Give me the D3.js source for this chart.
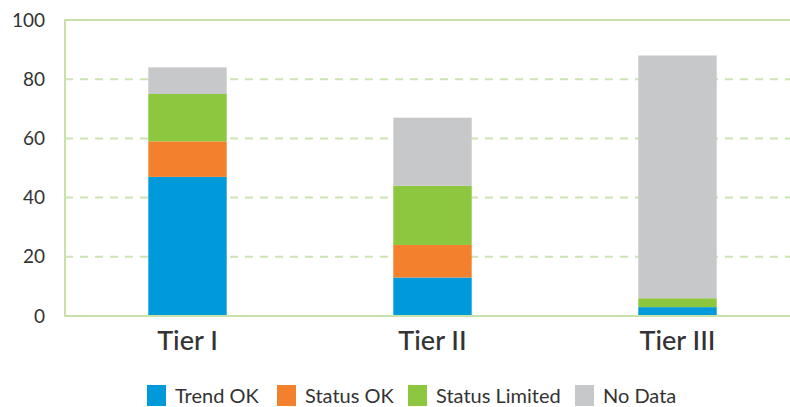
<!DOCTYPE html>
<html lang="en">
<head>
    <meta charset="UTF-8">
    <title>Tier status</title>
    <script src="https://cdnjs.cloudflare.com/ajax/libs/d3/7.8.5/d3.min.js"></script>
    <style>
        body { margin: 0; background: #fff; }
        text { font-family: Lato, "Open Sans", sans-serif; fill: #333; }
        .grid line { stroke: #cde3b3; stroke-width: 2px; stroke-dasharray: 8 7; }
        .frame { stroke: #c9e2ab; stroke-width: 2px; fill: none; }
    </style>
</head>
<body>
<svg width="790" height="407"></svg>
<script>
    var tiers = ["Tier I", "Tier II", "Tier III"];
    var seriesNames = ["Trend OK", "Status OK", "Status Limited", "No Data"];
    var seriesColors = ["#0099d9", "#f2802c", "#8dc63f", "#c7c8ca"];
    var trendOK = [47, 13, 3];
    var statusOK = [12, 11, 0];
    var statusLimited = [16, 20, 3];
    var noData = [9, 23, 82];
    var yTicks = [0, 20, 40, 60, 80, 100];

    var svg = d3.select("svg");
    var plotLeft = 65, plotTop = 20, plotBottom = 316, plotRight = 800;

    // rows for the stack
    var rows = tiers.map(function (t, i) {
        return {
            tier: t,
            "Trend OK": trendOK[i],
            "Status OK": statusOK[i],
            "Status Limited": statusLimited[i],
            "No Data": noData[i]
        };
    });
    var stacked = d3.stack().keys(seriesNames)(rows);

    var x = d3.scaleBand().domain(tiers).range([plotLeft, plotRight]).paddingInner(0.68).paddingOuter(0.34);
    var y = d3.scaleLinear().domain([0, 100]).range([plotBottom, plotTop]);
    var color = d3.scaleOrdinal().domain(seriesNames).range(seriesColors);

    // dashed gridlines
    svg.append("g").attr("class", "grid")
        .selectAll("line")
        .data(yTicks.filter(function (d) { return d > 0 && d < 100; }))
        .enter().append("line")
        .attr("x1", plotLeft).attr("x2", plotRight)
        .attr("y1", function (d) { return y(d); })
        .attr("y2", function (d) { return y(d); });

    // bars
    svg.append("g").selectAll("g")
        .data(stacked)
        .enter().append("g")
        .attr("fill", function (d) { return color(d.key); })
        .selectAll("rect")
        .data(function (d) { return d; })
        .enter().append("rect")
        .attr("x", function (d) { return x(d.data.tier); })
        .attr("width", x.bandwidth())
        .attr("y", function (d) { return y(d[1]); })
        .attr("height", function (d) { return y(d[0]) - y(d[1]); });

    // frame: top, left, bottom
    svg.append("path").attr("class", "frame")
        .attr("d", "M" + plotRight + "," + y(100) + "H" + plotLeft + "V" + y(0) + "H" + plotRight);

    // y axis labels
    var yAxis = d3.axisLeft(y).tickValues(yTicks).tickSize(0).tickPadding(20);
    var gy = svg.append("g").attr("transform", "translate(" + plotLeft + ",0)").call(yAxis);
    gy.select(".domain").remove();
    gy.selectAll("text").style("font-size", "19px").style("font-family", "Lato, sans-serif").attr("fill", "#2b2b2b");

    // x axis labels
    var xAxis = d3.axisBottom(x).tickSize(0).tickPadding(15);
    var gx = svg.append("g").attr("transform", "translate(0," + plotBottom + ")").call(xAxis);
    gx.select(".domain").remove();
    gx.selectAll("text").style("font-size", "27px").style("font-family", "Lato, sans-serif")
        .style("font-weight", "500").attr("fill", "#1f1b1c");

    // legend
    var legendX = [147, 277, 408, 575];
    var lg = svg.append("g").selectAll("g")
        .data(seriesNames)
        .enter().append("g")
        .attr("transform", function (d, i) { return "translate(" + legendX[i] + ",385)"; });
    lg.append("rect").attr("width", 19).attr("height", 21).attr("fill", function (d) { return color(d); });
    lg.append("text").attr("x", 28).attr("y", 18).style("font-size", "20px").text(function (d) { return d; });
</script>
</body>
</html>
